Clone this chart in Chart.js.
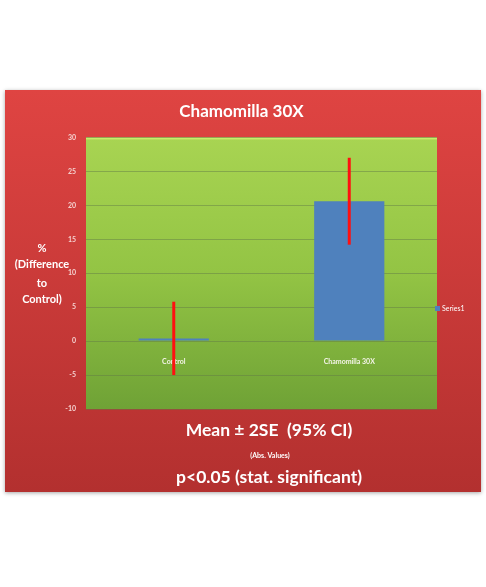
<!DOCTYPE html>
<html>
<head>
<meta charset="utf-8">
<script src="https://cdn.jsdelivr.net/npm/chart.js@4.4.1/dist/chart.umd.min.js"></script>
<style>
  html, body { margin: 0; padding: 0; background: #ffffff; }
  #wrap { width: 486px; height: 587px; position: relative; }
</style>
</head>
<body>
<div id="wrap"><canvas id="chart"></canvas></div>
<script>
// values
const categories = ['Control', 'Chamomilla 30X'];
const means = [0.4, 20.6];
const twoSE = [5.4, 6.4];
const yTicksMin = -10;
const yTicksMax = 30;
const yTickStep = 5;

const yTitleLines = ['%', '(Difference', 'to', 'Control)'];
const bottomLines = ['Mean \u00b1 2SE  (95% CI)', '(Abs. Values)', 'p<0.05 (stat. significant)'];

const FONT = 'Lato, "Open Sans", sans-serif';

const panel = {
	id: 'panel',
	beforeDraw(chart) {
		const c = chart.ctx;
		const a = chart.chartArea;
		c.save();
		c.fillStyle = '#ffffff';
		c.fillRect(0, 0, chart.width, chart.height);

		// red frame
		c.shadowColor = 'rgba(0,0,0,0.35)';
		c.shadowBlur = 4;
		c.shadowOffsetY = 1;
		let g = c.createLinearGradient(0, 90, 0, 492);
		g.addColorStop(0, '#df4442');
		g.addColorStop(1, '#b3302f');
		c.fillStyle = g;
		c.fillRect(5, 90, 476, 402);
		c.shadowColor = 'transparent';

		// green plot area
		g = c.createLinearGradient(0, a.top, 0, a.bottom);
		g.addColorStop(0, '#a8d452');
		g.addColorStop(0.5, '#93c444');
		g.addColorStop(1, '#6fa236');
		c.fillStyle = g;
		c.fillRect(a.left, a.top, a.right - a.left, a.bottom - a.top);
		c.fillStyle = '#c8ec6a';
		c.fillRect(a.left, a.top, a.right - a.left, 2);
		c.restore();
	},
	afterDatasetsDraw(chart) {
		const c = chart.ctx;
		const y = chart.scales.y;
		const meta = chart.getDatasetMeta(0);
		c.save();
		c.strokeStyle = '#ff1010';
		c.lineWidth = 3;
		meta.data.forEach((bar, i) => {
			c.beginPath();
			c.moveTo(bar.x, y.getPixelForValue(means[i] - twoSE[i]));
			c.lineTo(bar.x, y.getPixelForValue(means[i] + twoSE[i]));
			c.stroke();
		});
		c.restore();
	},
	afterDraw(chart) {
		const c = chart.ctx;
		c.save();
		c.fillStyle = '#ffffff';
		c.textAlign = 'center';
		c.textBaseline = 'middle';

		// y axis title, horizontal lines
		c.font = 'bold 11px ' + FONT;
		const yLineY = [248, 264, 283, 299];
		yTitleLines.forEach((t, i) => c.fillText(t, 42, yLineY[i]));

		// lines below the plot
		c.font = 'bold 17.5px ' + FONT;
		c.fillText(bottomLines[0], 269, 430);
		c.font = 'bold 7px ' + FONT;
		c.fillText(bottomLines[1], 270, 456);
		c.font = 'bold 17.5px ' + FONT;
		c.fillText(bottomLines[2], 269, 477);

		// legend
		const ds = chart.data.datasets[0];
		c.fillStyle = ds.backgroundColor;
		c.fillRect(435, 306, 5, 5);
		c.fillStyle = '#ffffff';
		c.textAlign = 'left';
		c.font = '7px ' + FONT;
		c.fillText(ds.label, 442, 309);
		c.restore();
	}
};

new Chart(document.getElementById('chart'), {
	type: 'bar',
	data: {
		labels: categories,
		datasets: [{
			label: 'Series1',
			data: means,
			backgroundColor: '#4f81bd',
			borderWidth: 0,
			barPercentage: 0.4,
			categoryPercentage: 1.0
		}]
	},
	plugins: [panel],
	options: {
		responsive: true,
		maintainAspectRatio: false,
		animation: false,
		devicePixelRatio: 1,
		layout: {
			padding: { top: 90, left: 46, right: 49, bottom: 178 }
		},
		plugins: {
			legend: { display: false },
			tooltip: { enabled: false },
			title: {
				display: true,
				text: 'Chamomilla 30X',
				color: '#ffffff',
				font: { family: FONT, size: 17, weight: 'bold' },
				padding: { top: 11, bottom: 16 }
			}
		},
		scales: {
			x: {
				position: { y: 0 },
				grid: { display: false },
				border: { display: false },
				ticks: {
					color: '#f4f4e8',
					font: { family: FONT, size: 7, weight: 'bold' },
					padding: 8
				}
			},
			y: {
				min: yTicksMin,
				max: yTicksMax,
				afterFit(scale) { scale.width = 40; },
				grid: {
					color: 'rgba(95,120,70,0.45)',
					lineWidth: 1,
					drawTicks: false
				},
				border: { display: false },
				ticks: {
					stepSize: yTickStep,
					color: '#f5d2d0',
					font: { family: FONT, size: 7, weight: 'bold' },
					padding: 10
				}
			}
		}
	}
});
</script>
</body>
</html>
